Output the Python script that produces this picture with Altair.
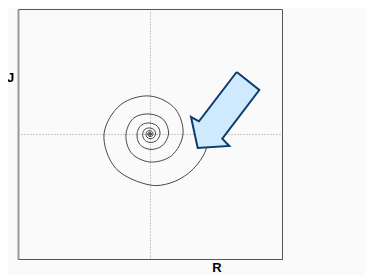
import altair as alt
import pandas as pd

# Spiral points (R, J), inner to outer
spiral_r = [
    0.5, 0.4, 0, -0.45, -0.65, -0.5, 0, 0.6,
    0.9, 0.7, 0, -0.8, -1.2, -0.9, 0, 1.1,
    1.65, 1.2, 0, -1.5, -2.2, -1.7, 0, 2.0,
    3.0, 2.3, 0, -2.7, -4.0, -3.1, 0, 3.6,
    5.5, 4.2, 0, -4.9, -7.3, -5.7, 0, 6.5,
    10, 7.6, 0, -8.8, -13, -10.3, 0, 11.9,
    18.5, 13.9, 0, -16.1, -24, -18.8, 0, 21.6,
    33, 25.2, 0, -29.3, -46, -34.3, 0, 20.3, 38.9, 53.1, 59.3,
]
spiral_j = [
    0, 0.4, 0.55, 0.45, 0, -0.5, -0.75, -0.6,
    0, 0.7, 1.0, 0.8, 0, -0.9, -1.4, -1.1,
    0, 1.2, 1.8, 1.5, 0, -1.7, -2.6, -2.0,
    0, 2.3, 3.3, 2.7, 0, -3.1, -4.7, -3.6,
    0, 4.2, 6.0, 4.9, 0, -5.7, -8.5, -6.5,
    0, 7.6, 11, 8.8, 0, -10.3, -15.4, -11.9,
    0, 13.9, 20, 16.1, 0, -18.8, -28, -21.6,
    0, 25.2, 38, 29.3, 0, -34.3, -51, -49.0, -38.9, -22.0, -5.2,
]

# Block arrow outline (R, J)
arrow_r = [86.7, 109.3, 72.3, 79.3, 47.7, 41, 49, 86.7]
arrow_j = [62, 44, -4.7, -12, -14, 17, 12.7, 62]

spiral = pd.DataFrame({"R": spiral_r, "J": spiral_j, "i": list(range(len(spiral_r)))})
arrow = pd.DataFrame({"R": arrow_r, "J": arrow_j, "i": list(range(len(arrow_r)))})

xscale = alt.Scale(domain=[-132, 132], nice=False, zero=False)
yscale = alt.Scale(domain=[-125, 125], nice=False, zero=False)

xaxis = alt.Axis(
    title="R", titleX=198.5, titleY=8, titleAlign="center", titleBaseline="middle",
    titleFont="Liberation Sans", titleFontSize=13, titleFontWeight="bold", titleColor="#000",
    labels=False, ticks=False, values=[0], grid=True, gridDash=[1, 2], gridColor="#999",
    domain=True, domainColor="#555", domainWidth=1,
)
yaxis = alt.Axis(
    title="J", titleAngle=0, titleX=-8, titleY=68, titleAlign="center", titleBaseline="middle",
    titleFont="Liberation Sans", titleFontSize=13, titleFontWeight="bold", titleColor="#000",
    labels=False, ticks=False, values=[0], grid=True, gridDash=[1, 2], gridColor="#999",
    domain=True, domainColor="#999", domainWidth=2,
)

spiral_layer = alt.Chart(spiral).mark_line(
    color="#333", strokeWidth=0.9, interpolate="catmull-rom"
).encode(
    x=alt.X("R:Q", scale=xscale, axis=xaxis),
    y=alt.Y("J:Q", scale=yscale, axis=yaxis),
    order=alt.Order("i:Q"),
)

arrow_layer = alt.Chart(arrow).mark_line(
    fill="#cfe9ff", stroke="#0b3c6b", strokeWidth=2, strokeJoin="miter", interpolate="linear"
).encode(
    x=alt.X("R:Q", scale=xscale),
    y=alt.Y("J:Q", scale=yscale),
    order=alt.Order("i:Q"),
)

chart = alt.layer(spiral_layer, arrow_layer).properties(
    width=264, height=250,
    autosize=alt.AutoSizeParams(type="none"),
    padding={"left": 10, "top": 1, "right": 84, "bottom": 16},
    background="#fafafa",
).configure_view(
    stroke="#555", strokeWidth=1, fill="#fafafa"
)

chart.save("out.html", embed_options={"renderer": "svg", "actions": False})
